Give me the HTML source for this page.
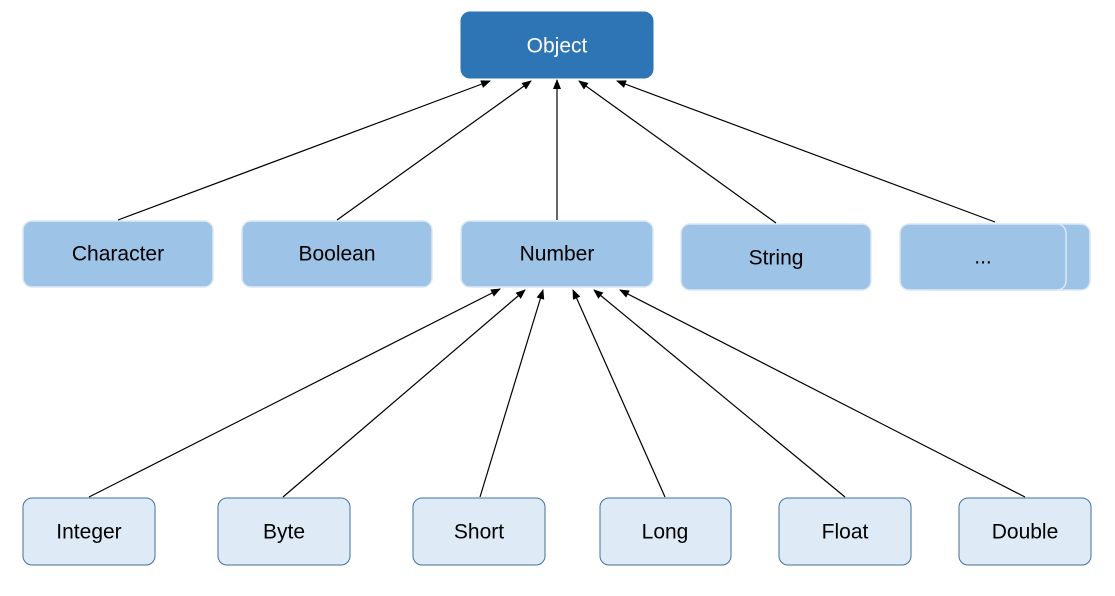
<!DOCTYPE html>
<html><head><style>
body{margin:0;background:#fff;}
svg text{font-family:"Liberation Sans",sans-serif;font-size:21px;text-anchor:middle;dominant-baseline:central;}
</style></head><body>
<svg width="1115" height="591" viewBox="0 0 1115 591" xmlns="http://www.w3.org/2000/svg">
<defs><marker id="a" markerWidth="10" markerHeight="8" refX="9" refY="4" orient="auto" markerUnits="userSpaceOnUse"><path d="M0,0 L10,4 L0,8 Z" fill="#000"/></marker></defs>
<rect x="461" y="12" width="192" height="66" rx="9" fill="#2E75B6" stroke="#2E75B6"/>
<text x="557" y="46" fill="#fff">Object</text>
<g fill="#9DC3E6" stroke="#dbe8f5" stroke-width="1.5">
<rect x="23" y="221" width="190" height="66" rx="9"/>
<rect x="242" y="221" width="190" height="66" rx="9"/>
<rect x="461" y="221" width="192" height="66" rx="9"/>
<rect x="681" y="224" width="190" height="66" rx="9"/>
<rect x="924" y="224" width="166" height="66" rx="9"/>
<rect x="900" y="224" width="166" height="66" rx="9"/>
</g>
<g fill="#000">
<text x="118" y="254">Character</text>
<text x="337" y="254">Boolean</text>
<text x="557" y="254">Number</text>
<text x="776" y="258">String</text>
<text x="983" y="257">...</text>
</g>
<g fill="#DEEBF7" stroke="#41719C" stroke-width="1">
<rect x="23" y="498" width="132" height="67" rx="9"/>
<rect x="218" y="498" width="132" height="67" rx="9"/>
<rect x="413" y="498" width="132" height="67" rx="9"/>
<rect x="600" y="498" width="131" height="67" rx="9"/>
<rect x="779" y="498" width="132" height="67" rx="9"/>
<rect x="959" y="498" width="132" height="67" rx="9"/>
</g>
<g fill="#000">
<text x="89" y="532">Integer</text>
<text x="284" y="532">Byte</text>
<text x="479" y="532">Short</text>
<text x="665" y="532">Long</text>
<text x="845" y="532">Float</text>
<text x="1025" y="532">Double</text>
</g>
<g stroke="#000" stroke-width="1.2" marker-end="url(#a)">
<line x1="118" y1="220" x2="490" y2="81"/>
<line x1="337" y1="220" x2="531" y2="81"/>
<line x1="557" y1="220" x2="557" y2="80"/>
<line x1="776" y1="223" x2="579" y2="81"/>
<line x1="995" y1="222" x2="617" y2="81"/>
<line x1="89" y1="497" x2="500" y2="289"/>
<line x1="283" y1="497" x2="525" y2="290"/>
<line x1="480" y1="497" x2="543" y2="290"/>
<line x1="665" y1="497" x2="573" y2="290"/>
<line x1="845" y1="497" x2="594" y2="290"/>
<line x1="1025" y1="497" x2="620" y2="290"/>
</g>
</svg>
</body></html>
